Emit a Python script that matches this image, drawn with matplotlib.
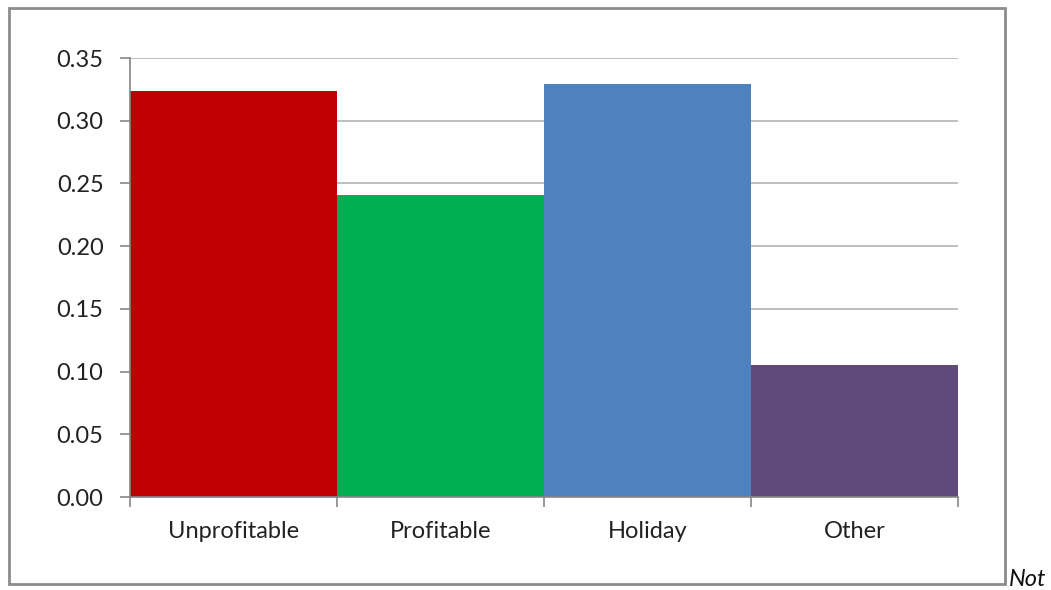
import matplotlib
matplotlib.use("Agg")
import matplotlib.pyplot as plt
from matplotlib.patches import Rectangle
import numpy as np

categories = ["Unprofitable", "Profitable", "Holiday", "Other"]
values = [0.324, 0.241, 0.329, 0.105]
bar_colors = ["#C00000", "#00B050", "#4F81BD", "#604A7B"]
y_ticks = [0.00, 0.05, 0.10, 0.15, 0.20, 0.25, 0.30, 0.35]

plt.rcParams['font.family'] = ['Lato', 'DejaVu Sans']

fig = plt.figure(figsize=(10.51, 5.90), dpi=100)
ax = fig.add_axes([130 / 1051, 1 - 497 / 590, (958 - 130) / 1051, (497 - 58) / 590])

x = np.arange(len(categories))
ax.bar(x, values, width=1.0, color=bar_colors, zorder=2)

ax.set_xlim(-0.5, len(categories) - 0.5)
ax.set_ylim(0, 0.35)
ax.set_yticks(y_ticks)
ax.set_yticklabels(["%.2f" % v for v in y_ticks], fontsize=17, color="#222222")
ax.yaxis.grid(True, color="#b3b3b3", linewidth=1.2, zorder=0)
ax.set_axisbelow(True)

# category labels centred, tick marks on the boundaries
ax.set_xticks(x)
ax.set_xticklabels(categories, fontsize=17, color="#222222")
ax.tick_params(axis="x", which="major", length=0, pad=17)
ax.set_xticks(np.arange(-0.5, len(categories)), minor=True)
ax.tick_params(axis="x", which="minor", length=7, color="#868686", width=1.2)
ax.tick_params(axis="y", length=7, color="#868686", width=1.2, pad=12)

for s in ["top", "right"]:
    ax.spines[s].set_visible(False)
for s in ["left", "bottom"]:
    ax.spines[s].set_color("#868686")
    ax.spines[s].set_linewidth(1.2)

# outer chart frame
fig.patches.append(Rectangle((9 / 1051, 1 - 584 / 590), (1005 - 9) / 1051, (584 - 8) / 590,
                             transform=fig.transFigure, fill=False,
                             edgecolor="#8c8c8c", linewidth=2))

fig.text(1009 / 1051, 1 - 586 / 590, "Not", fontsize=17, style="italic",
         ha="left", va="baseline", color="#111111")

fig.savefig("out.png", dpi=100)
